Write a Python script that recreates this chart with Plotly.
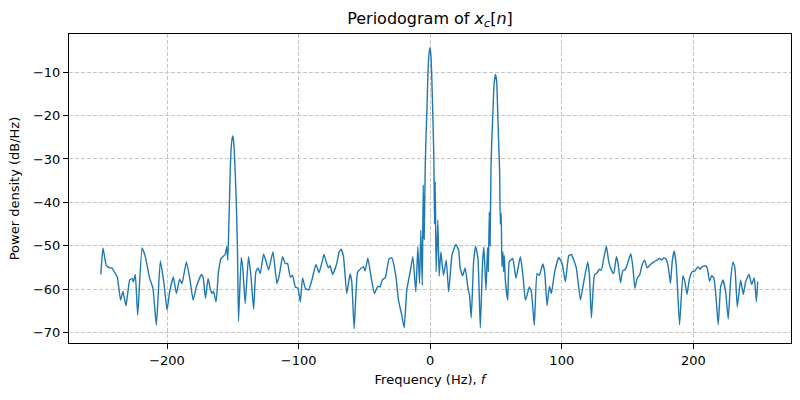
import plotly.graph_objects as go

freq_hz = [
    -250.3, -248.7, -246.2, -243.6, -241.9, -239.3, -237.8, -235.3, -233.5, -231.2,
    -228.4, -226.6, -225.6, -224.1, -222.3, -219.0, -216.5, -213.2, -210.7, -208.1,
    -205.1, -202.5, -200.0, -198.0, -195.2, -192.9, -190.4, -188.6, -185.3, -182.7,
    -180.2, -177.7, -173.9, -172.6, -170.8, -168.8, -167.2, -165.9, -164.7, -162.7,
    -160.9, -158.9, -155.8, -154.6, -153.8,
    -153.0, -152.4, -151.8, -151.0, -150.2, -149.4, -148.6, -147.7, -147.0, -146.4, -145.7,
    -143.6, -142.4, -140.6, -138.1, -136.3, -134.2, -132.5, -130.9, -129.2, -126.6,
    -124.6, -122.8, -119.5, -116.5, -114.7, -112.2, -110.1, -108.4, -106.3, -104.6,
    -102.5, -100.5, -98.7, -97.0, -94.9, -92.4, -89.9, -86.8, -84.5, -82.5,
    -80.7, -79.4, -77.4, -76.1, -74.1, -71.0, -69.2, -67.7, -65.9, -63.4,
    -60.9, -59.6, -57.8, -55.3, -53.3, -50.7, -49.5, -47.4, -44.9, -42.4,
    -39.8, -38.1, -36.3, -34.2, -31.2, -29.2, -26.1, -24.1, -21.6, -19.8,
    -17.8, -15.2, -13.2, -10.9, -9.4, -8.1, -7.1, -6.0, -5.3, -4.6,
    -3.8, -3.2, -2.5, -1.8, -1.1, -0.3, 0.4, 1.1, 2.0, 2.8, 3.3,
    3.8, 4.5, 5.8, 6.8, 8.1, 10.1, 12.2, 14.0, 15.2, 16.5,
    19.5, 21.6, 22.8, 24.6, 26.6, 28.7, 29.9, 31.2, 33.0, 34.5,
    36.3, 38.1, 39.8, 40.8, 42.4, 43.6, 44.2, 44.9, 45.5,
    46.2, 46.9, 47.7, 48.5, 49.6, 50.5, 51.2, 52.0, 52.8, 53.3,
    54.0, 54.5, 55.3, 55.8, 56.3, 57.1, 58.9, 60.1, 62.7, 65.2,
    68.5, 70.5, 72.3, 73.6, 75.3, 76.9, 79.1, 81.2, 83.0, 85.5,
    87.0, 88.8, 90.6, 92.1, 94.6, 97.7, 100.3, 102.7, 105.3, 107.3,
    109.1, 111.1, 114.2, 116.7, 119.7, 121.0, 122.5, 124.8, 126.8, 128.6,
    130.1, 131.9, 133.9, 135.7, 137.7, 139.5, 141.5, 142.8, 144.6, 146.3,
    148.4, 150.4, 152.4, 154.0, 155.5, 157.3, 159.3, 161.1, 162.9, 164.9,
    167.4, 170.0, 172.5, 174.3, 175.8, 177.6, 179.3, 180.9, 182.6, 183.9,
    185.4, 187.0, 189.5, 192.0, 193.6, 195.1, 197.1, 199.1, 201.2, 203.5,
    205.0, 206.8, 209.3, 210.6, 212.3, 213.9, 215.6, 216.9, 218.9, 220.7,
    222.5, 224.5, 226.5, 228.3, 230.1, 231.6, 233.4, 235.9, 238.0, 239.7,
    242.3, 244.3, 246.3, 247.9, 248.9,
]

power_db = [
    -56.6, -50.5, -54.5, -55.1, -55.1, -56.4, -57.2, -62.5, -60.5, -63.8,
    -57.9, -57.5, -58.3, -56.6, -66.0, -50.5, -52.5, -57.5, -59.8, -68.3,
    -53.5, -58.3, -64.8, -60.6, -57.2, -61.0, -57.7, -58.7, -53.7, -57.5,
    -62.5, -59.5, -56.6, -57.2, -62.1, -57.5, -59.8, -61.0, -60.5, -62.9,
    -56.0, -52.9, -52.0, -50.2, -53.3,
    -45.0, -38.0, -31.0, -26.5, -24.7, -25.8, -30.0, -37.0, -44.0, -52.0, -67.4,
    -52.7, -55.2, -63.3, -52.5, -56.8, -64.6, -56.0, -55.1, -56.4, -51.9,
    -53.7, -55.6, -51.4, -58.7, -56.8, -52.5, -54.1, -54.1, -57.2, -56.8,
    -59.5, -59.8, -62.9, -57.4, -59.8, -60.2, -57.9, -54.3, -56.2, -54.1,
    -52.0, -53.3, -55.1, -54.6, -56.6, -54.1, -51.4, -50.8, -52.5, -61.0,
    -56.5, -58.3, -69.1, -56.2, -55.4, -54.8, -55.8, -52.8, -57.2, -61.0,
    -59.3, -59.5, -57.8, -57.4, -53.0, -52.8, -57.0, -62.5, -66.0, -68.9,
    -60.2, -56.0, -52.5, -60.6, -50.2, -58.7, -46.4, -59.1, -36.0, -48.5,
    -32.0, -25.0, -19.0, -11.0, -6.5, -4.4, -5.5, -10.0, -20.0, -30.0, -45.0,
    -35.2, -56.0, -44.1, -57.0, -51.4, -56.8, -53.3, -60.6, -56.8, -52.2,
    -49.7, -51.0, -55.2, -56.9, -55.1, -59.8, -61.4, -66.6, -53.7, -50.1,
    -52.9, -68.9, -53.7, -50.3, -60.2, -50.4, -56.0, -42.2, -50.0,
    -32.0, -25.0, -19.0, -13.0, -10.5, -12.0, -18.0, -26.0, -33.0, -45.0,
    -42.5, -54.8, -51.4, -56.0, -52.2, -57.9, -62.5, -53.7, -52.9, -57.5,
    -52.5, -56.8, -62.5, -61.4, -59.5, -60.6, -68.3, -56.4, -56.8, -54.2,
    -56.0, -63.8, -59.3, -61.0, -56.0, -52.7, -54.1, -58.3, -52.3, -52.0,
    -53.3, -55.2, -62.5, -58.3, -53.7, -56.8, -66.6, -56.8, -56.2, -55.4,
    -55.6, -52.9, -50.1, -53.7, -55.6, -56.4, -52.5, -54.1, -58.5, -55.8,
    -55.4, -53.7, -51.8, -54.8, -59.8, -57.5, -56.6, -54.3, -53.3, -55.1,
    -54.3, -53.7, -53.3, -52.9, -53.3, -52.8, -53.1, -54.8, -58.7, -53.7,
    -51.2, -54.5, -68.2, -56.9, -58.3, -61.2, -57.5, -56.0, -55.8, -54.8,
    -55.4, -54.8, -54.6, -55.2, -58.2, -56.9, -57.5, -60.6, -68.2, -59.5,
    -57.9, -60.5, -66.9, -57.9, -53.7, -55.2, -64.1, -57.9, -61.2, -58.3,
    -56.6, -58.9, -57.4, -62.9, -58.3,
]

x_ticks = [-200, -100, 0, 100, 200]
y_ticks = [-70, -60, -50, -40, -30, -20, -10]

fig = go.Figure()
fig.add_trace(go.Scatter(
    x=freq_hz, y=power_db, mode="lines",
    line=dict(color="#1f77b4", width=1.4, shape="spline", smoothing=0.4),
    showlegend=False, hoverinfo="skip",
))

font_family = "DejaVu Sans"
axis_common = dict(
    showline=True, linecolor="black", linewidth=1, mirror=True,
    ticks="outside", ticklen=5, tickwidth=1, tickcolor="black",
    showgrid=True, gridcolor="#c4c4c4", griddash="4px,2px", gridwidth=1,
    zeroline=False, automargin=False,
    tickfont=dict(family=font_family, size=13, color="black"),
)

fig.update_layout(
    width=800, height=400,
    paper_bgcolor="white", plot_bgcolor="white",
    margin=dict(l=69, r=9, t=34, b=57),
    hovermode=False,
    title=dict(
        text="Periodogram of <i>x</i><sub><i>c</i></sub>[<i>n</i>]",
        x=0.5, xref="paper", xanchor="center", y=0.955, yref="container", yanchor="middle",
        font=dict(family=font_family, size=16, color="black"),
    ),
    xaxis=dict(
        range=[-274.5, 274.2], tickvals=x_ticks,
        ticktext=[str(v).replace("-", "\u2212") for v in x_ticks],
        title=dict(text="Frequency (Hz), <i>f</i>", standoff=8,
                   font=dict(family=font_family, size=13, color="black")),
        **axis_common,
    ),
    yaxis=dict(
        range=[-72.4, -1.2], tickvals=y_ticks,
        ticktext=[str(v).replace("-", "\u2212") for v in y_ticks],
        title=dict(text="Power density (dB/Hz)", standoff=10,
                   font=dict(family=font_family, size=13, color="black")),
        **axis_common,
    ),
)

fig.write_html(
    "out.html",
    config={"displayModeBar": False, "staticPlot": True},
    post_script="document.body.style.margin='0';document.body.style.overflow='hidden';",
)
